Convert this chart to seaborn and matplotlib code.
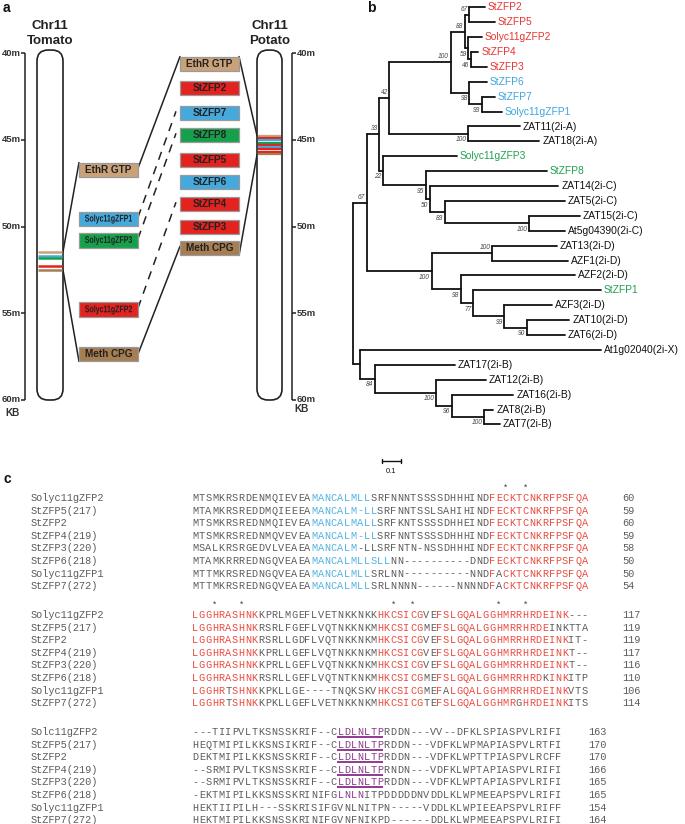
import numpy as np
import pandas as pd
import matplotlib
matplotlib.use("Agg")
import matplotlib.pyplot as plt
import seaborn as sns
from matplotlib.patches import FancyBboxPatch, Rectangle, PathPatch
from matplotlib.textpath import TextPath
from matplotlib.font_manager import FontProperties
import matplotlib.transforms as mtransforms

sns.set_theme(style="white")
plt.rcParams['font.family'] = ['Liberation Sans', 'DejaVu Sans']

# ------------------------------------------------------------------ data
# panel a
mb_ticks = [40, 45, 50, 55, 60]
tomato_genes = ["EthR GTP", "Solyc11gZFP1", "Solyc11gZFP3", "Solyc11gZFP2", "Meth CPG"]
tomato_box_mb = [46.74, 49.57, 50.80, 54.80, 57.35]
tomato_band_mb = [51.45, 51.70, 51.83, 52.26, 52.51]
potato_genes = ["EthR GTP", "StZFP2", "StZFP7", "StZFP8", "StZFP5", "StZFP6",
                "StZFP4", "StZFP3", "Meth CPG"]
potato_box_mb = [40.63, 42.02, 43.46, 44.73, 46.17, 47.44, 48.70, 50.03, 51.24]
potato_band_mb = [44.78, 44.91, 45.04, 45.17, 45.30, 45.43, 45.56, 45.69, 45.82]
homolog_links = [("Solyc11gZFP1", "StZFP7"), ("Solyc11gZFP3", "StZFP8"),
                 ("Solyc11gZFP2", "StZFP4")]

RED, BLUE, GREEN = "#E2231F", "#45A9DD", "#17A04C"
TAN, BROWN = "#C9A27A", "#A77D52"
gene_color = {"EthR GTP": TAN, "Meth CPG": BROWN,
              "StZFP2": RED, "StZFP5": RED, "StZFP4": RED, "StZFP3": RED, "Solyc11gZFP2": RED,
              "StZFP7": BLUE, "StZFP6": BLUE, "Solyc11gZFP1": BLUE,
              "StZFP8": GREEN, "Solyc11gZFP3": GREEN}

# panel b : tree  (node: ("n", depth, bootstrap, label side, children); leaf: (name, depth))
clade_AB = ("n", 0.514, "100", "a", [
    ("n", 0.589, "88", "a", [
        ("n", 0.612, "67", "a", [("StZFP2", 0.695), ("StZFP5", 0.747)]),
        ("n", 0.607, "59", "b", [
            ("Solyc11gZFP2", 0.677),
            ("n", 0.619, "46", "b", [("StZFP4", 0.659), ("StZFP3", 0.704)]),
        ]),
    ]),
    ("n", 0.612, "98", "b", [
        ("StZFP6", 0.704),
        ("n", 0.677, "93", "b", [("StZFP7", 0.747), ("Solyc11gZFP1", 0.783)]),
    ]),
])
clade_2iA = ("n", 0.607, "100", "b", [("ZAT11(2i-A)", 0.879), ("ZAT18(2i-A)", 0.981)])
clade_2iC_tail = ("n", 0.926, "100", "b", [("ZAT15(2i-C)", 1.195), ("At5g04390(2i-C)", 1.116)])
clade_C = ("n", 0.159, "22", "b", [
    ("Solyc11gZFP3", 0.546),
    ("n", 0.384, "95", "b", [
        ("StZFP8", 1.019),
        ("n", 0.405, "50", "b", [
            ("ZAT14(2i-C)", 1.081),
            ("n", 0.484, "83", "b", [("ZAT5(2i-C)", 1.116), clade_2iC_tail]),
        ]),
    ]),
])
clade_D = ("n", 0.414, "100", "b", [
    ("n", 0.733, "100", "a", [("ZAT13(2i-D)", 1.072), ("AZF1(2i-D)", 1.133)]),
    ("n", 0.568, "98", "b", [
        ("AZF2(2i-D)", 1.168),
        ("n", 0.630, "77", "b", [
            ("StZFP1", 1.305),
            ("n", 0.795, "99", "b", [
                ("AZF3(2i-D)", 1.046),
                ("n", 0.914, "90", "b", [("ZAT10(2i-D)", 1.138), ("ZAT6(2i-D)", 1.116)]),
            ]),
        ]),
    ]),
])
clade_B = ("n", 0.116, "84", "b", [
    ("ZAT17(2i-B)", 0.537),
    ("n", 0.437, "100", "b", [
        ("ZAT12(2i-B)", 0.700),
        ("n", 0.519, "96", "b", [
            ("ZAT16(2i-B)", 0.844),
            ("n", 0.689, "100", "b", [("ZAT8(2i-B)", 0.738), ("ZAT7(2i-B)", 0.774)]),
        ]),
    ]),
])
tree = ("n", 0.000, None, None, [
    ("n", 0.072, "67", "a", [
        ("n", 0.138, "33", "a", [
            ("n", 0.191, "42", "a", [clade_AB, clade_2iA]),
            clade_C,
        ]),
        clade_D,
    ]),
    ("n", 0.037, None, None, [("At1g02040(2i-X)", 1.305), clade_B]),
])
TRED, TBLUE, TGREEN = "#E8352F", "#3DA7DE", "#1EA24F"
leaf_color = {"StZFP2": TRED, "StZFP5": TRED, "Solyc11gZFP2": TRED, "StZFP4": TRED,
              "StZFP3": TRED, "StZFP6": TBLUE, "StZFP7": TBLUE, "Solyc11gZFP1": TBLUE,
              "Solyc11gZFP3": TGREEN, "StZFP8": TGREEN, "StZFP1": TGREEN}
scale_len = 0.1

# panel c : alignment
block_names = [
    ["Solyc11gZFP2", "StZFP5(217)", "StZFP2", "StZFP4(219)", "StZFP3(220)", "StZFP6(218)",
     "Solyc11gZFP1", "StZFP7(272)"],
    ["Solyc11gZFP2", "StZFP5(217)", "StZFP2", "StZFP4(219)", "StZFP3(220)", "StZFP6(218)",
     "Solyc11gZFP1", "StZFP7(272)"],
    ["Solc11gZFP2", "StZFP5(217)", "StZFP2", "StZFP4(219)", "StZFP3(220)", "StZFP6(218)",
     "Solyc11gZFP1", "StZFP7(272)"],
]
block1_seqs = [
    "MTSMKRSRDENMQIEVEAMANCALMLLSRFNNNTSSSSDHHHINDFECKTCNKRFPSFQA",
    "MTAMKRSREDDMQIEEEAMANCALM-LLSRFNNTSSLSAHIHINDFECKTCNKRFPSFQA",
    "MTSMKRSREDNMQIEVEAMANCALMALLSRFKNTSSSSDHHEINDFECKTCNKRFPSFQA",
    "MTSMKRSREDNMQVEVEAMANCALM-LLSRFNNTSSSSDHHHINDFECKTCNKRFPSFQA",
    "MSALKRSRGEDVLVEAEAMANCALM-LLSRFNTN-NSSDHHHINDFECKTCNKRFPSFQA",
    "MTAMKRRREDNGQVEAEAMANCALMLLSLLNN----------DNDFECKTCNKRFPSFQA",
    "MTTMKRSREDNGQVEAEAMANCALMLLSRLNN----------NNDFACKTCNKRFPSFQA",
    "MTTMKRSREDNGQVEAEAMANCALMLLSRLNNNN------NNNNDFACKTCNKRFPSFQA",
]
block2_seqs = [
    "LGGHRASHNKKPRLMGEFLVETNKKNKKHKCSICGVEFSLGQALGGHMRRHRDEINK---",
    "LGGHRASHNKRSRLFGEFLVQTNKKNKMHKCSICGMEFSLGQALGGHMRRHRDEINKTTA",
    "LGGHRASHNKRSRLLGDFLVQTNKKNKMHKCSICGVEFSLGQALGGHMRRHRDEINKIT-",
    "LGGHRASHNKKPRLLGEFLVQTNKKNKMHKCSICGVEFSLGQALGGHMRRHRDEINKT--",
    "LGGHRASHNKKPRLLGEFLVQTNKKNKMHKCSICGVEFSLGQALGGHMRRHRDEINKT--",
    "LGGHRASHNKRSRLLGEFLVQTNTKNKMHKCSICGMEFSLGQALGGHMRRHRDKINKITP",
    "LGGHRTSHNKKPKLLGE----TNQKSKVHKCSICGMEFALGQALGGHMRRHRDEINKVTS",
    "LGGHRTSHNKKPKLLGEFLVETNKKNKMHKCSICGTEFSLGQALGGHMRGHRDEINKITS",
]
block3_seqs = [
    "---TIIPVLTKSNSSKRIF--CLDLNLTPRDDN---VV--DFKLSPIASPVLRIFI",
    "HEQTMIPILKKSNSIKRIF--CLDLNLTPRDDN---VDFKLWPMAPIASPVLRTFI",
    "DEKTMIPILKKSNSSKRIF--CLDLNLTPRDDN---VDFKLWPTTPIASPVLRCFF",
    "--SRMIPVLTKSNSSKRIF--CLDLNLTPRNDN---VDFKLWPTAPIASPVLRIFI",
    "--SRMIPVLTKSNSSKRIF--CLDLNLTPRDDN---VDFKLWPTAPIASPVLRIFI",
    "-EKTMIPILKKSNSSKRINIFGLNLNITPDDDDDNVDDLKLWPMEEAPSPVLRIFI",
    "HEKTIIPILH---SSKRISIFGVNLNITPN-----VDDLKLWPIEEAPSPVLRIFF",
    "HEKTMIPILKKSNSSKRINIFGVNFNIKPD------DDLKLWPMEEAPSPVLRIFI",
]
block1_ends = [60, 59, 60, 59, 58, 50, 50, 54]
block2_ends = [117, 119, 119, 117, 116, 110, 106, 114]
block3_ends = [163, 170, 170, 166, 165, 165, 154, 164]
block1_stars = [47, 50]
block2_stars = [3, 7, 30, 33, 46, 50]


def runs(spec):
    return "".join(code * n for n, code in spec)


block1_marks = [
    runs([(18, "g"), (9, "b"), (18, "g"), (15, "r")]),
    runs([(18, "g"), (10, "b"), (17, "g"), (15, "r")]),
    runs([(18, "g"), (10, "b"), (17, "g"), (15, "r")]),
    runs([(18, "g"), (10, "b"), (17, "g"), (15, "r")]),
    runs([(18, "g"), (7, "b"), (20, "g"), (15, "r")]),
    runs([(18, "g"), (12, "b"), (15, "g"), (15, "r")]),
    runs([(18, "g"), (9, "b"), (18, "g"), (1, "r"), (1, "g"), (13, "r")]),
    runs([(18, "g"), (9, "b"), (18, "g"), (1, "r"), (1, "g"), (13, "r")]),
]
block2_marks = [
    runs([(10, "r"), (18, "g"), (7, "r"), (2, "g"), (20, "r"), (3, "g")]),
    runs([(10, "r"), (18, "g"), (7, "r"), (2, "g"), (17, "r"), (6, "g")]),
    runs([(10, "r"), (18, "g"), (7, "r"), (2, "g"), (20, "r"), (3, "g")]),
    runs([(10, "r"), (18, "g"), (7, "r"), (2, "g"), (20, "r"), (3, "g")]),
    runs([(10, "r"), (18, "g"), (7, "r"), (2, "g"), (20, "r"), (3, "g")]),
    runs([(10, "r"), (18, "g"), (7, "r"), (2, "g"), (16, "r"), (1, "g"), (3, "r"), (3, "g")]),
    runs([(5, "r"), (1, "g"), (4, "r"), (18, "g"), (7, "r"), (2, "g"), (1, "r"), (1, "g"),
          (18, "r"), (3, "g")]),
    runs([(5, "r"), (1, "g"), (4, "r"), (18, "g"), (7, "r"), (2, "g"), (12, "r"), (1, "g"),
          (7, "r"), (3, "g")]),
]
block3_marks = [runs([(22, "g"), (7, "u"), (27, "g")])] * 5 + [
    runs([(22, "g"), (4, "p"), (30, "g")]), runs([(56, "g")]), runs([(56, "g")])]

# ------------------------------------------------------------------ figure
W, H = 685, 824
fig = plt.figure(figsize=(W / 100, H / 100), dpi=100)


def add_px_axes(x0, y0, x1, y1):
    ax = fig.add_axes([x0 / W, 1 - y1 / H, (x1 - x0) / W, (y1 - y0) / H])
    ax.set_axis_off()
    return ax


# ---------------- panel a
PXMB = 17.35
axa = add_px_axes(0, 53, 330, 400)
axa.set_xlim(0, 330)
axa.set_ylim(60, 40)
DARK = "#222222"
bh = 0.85


def chrom(x0, w):
    p = FancyBboxPatch((x0, 39.83), w, 60.0 - 39.83,
                       boxstyle="round,pad=0,rounding_size=11",
                       mutation_aspect=1 / PXMB, fc="white", ec=DARK, lw=1.2,
                       clip_on=False, zorder=2)
    axa.add_patch(p)


chrom(37, 26)
chrom(257, 25)
axa.hlines(tomato_band_mb, 37.6, 62.4,
           colors=[gene_color[g] for g in tomato_genes], lw=1.8, zorder=3)
axa.hlines(potato_band_mb, 257.6, 281.4,
           colors=[gene_color[g] for g in potato_genes], lw=1.6, zorder=3)

for xa, side in [(25, -1), (292, 1)]:
    axa.vlines(xa, 40, 60, color=DARK, lw=1.1, clip_on=False)
    axa.hlines(mb_ticks, xa, xa + side * 4, color=DARK, lw=1.1, clip_on=False)
    for m in mb_ticks:
        axa.text(xa + side * 4.5, m, f"{m}m", ha="right" if side < 0 else "left",
                 va="center", fontsize=6.8, weight="bold", color="#333333")
axa.text(13, 60.75, "KB", ha="center", va="center", fontsize=7.2, weight="bold", color="#333333")
axa.text(302, 60.5, "KB", ha="center", va="center", fontsize=7.2, weight="bold", color="#333333")
axa.text(50, 38.45, "Chr11", ha="center", va="center", fontsize=9.5, weight="bold", color=DARK)
axa.text(50, 39.32, "Tomato", ha="center", va="center", fontsize=9.5, weight="bold", color=DARK)
axa.text(270, 38.45, "Chr11", ha="center", va="center", fontsize=9.5, weight="bold", color=DARK)
axa.text(270, 39.32, "Potato", ha="center", va="center", fontsize=9.5, weight="bold", color=DARK)

tb_x0, tb_w = 79, 59
pb_x0, pb_w = 180, 59
tpos = dict(zip(tomato_genes, tomato_box_mb))
ppos = dict(zip(potato_genes, potato_box_mb))
PT = 100 / 72.0
bold_fp = FontProperties(family="Liberation Sans", weight="bold")


def condensed_text(xc, mb, s, size, squeeze):
    tp = TextPath((0, 0), s, size=size, prop=bold_fp)
    ext = tp.get_extents()
    cx = (ext.x0 + ext.x1) / 2
    cy = (ext.y0 + ext.y1) / 2
    tr = (mtransforms.Affine2D().translate(-cx, -cy)
          .scale(PT * squeeze, -PT / PXMB).translate(xc, mb))
    axa.add_patch(PathPatch(tr.transform_path(tp), fc=DARK, ec="none", lw=0,
                            zorder=5, clip_on=False))


def gene_box(x0, w, mb, name):
    axa.add_patch(Rectangle((x0, mb - bh / 2), w, bh, fc=gene_color[name], ec="#9a9a9a",
                            lw=0.9, zorder=4, clip_on=False))
    if name.startswith("Solyc"):
        condensed_text(x0 + w / 2, mb, name, 7.0, 0.72)
    else:
        axa.text(x0 + w / 2, mb, name, ha="center", va="center", color=DARK, zorder=5,
                 fontsize=7.2, weight="bold")


for g, m in zip(tomato_genes, tomato_box_mb):
    gene_box(tb_x0, tb_w, m, g)
for g, m in zip(potato_genes, potato_box_mb):
    gene_box(pb_x0, pb_w, m, g)

lk = dict(color=DARK, lw=1.1, zorder=1, clip_on=False)
axa.plot([63, tb_x0], [tomato_band_mb[0], tpos["EthR GTP"] - bh / 2], **lk)
axa.plot([63, tb_x0], [tomato_band_mb[-1], tpos["Meth CPG"] + bh / 2], **lk)
axa.plot([tb_x0 + tb_w, pb_x0], [tpos["EthR GTP"] - 0.1, ppos["EthR GTP"] - bh / 2], **lk)
axa.plot([tb_x0 + tb_w, pb_x0], [tpos["Meth CPG"], ppos["Meth CPG"] - 0.1], **lk)
axa.plot([pb_x0 + pb_w, 257], [ppos["EthR GTP"] - bh / 2, potato_band_mb[0] - 0.02], **lk)
axa.plot([pb_x0 + pb_w, 257], [ppos["Meth CPG"] + bh / 2, potato_band_mb[-1] + 0.05], **lk)
for t, p in homolog_links:
    axa.plot([tb_x0 + tb_w, pb_x0 - 4], [tpos[t] - 0.1, ppos[p] - 0.1], ls=(0, (5.5, 4.5)),
             color=DARK, lw=1.1, zorder=1, clip_on=False)

# ---------------- panel b (tree)
PX_D = 190.0
axb = add_px_axes(330, 0, 685, 480)
LEAF0, LEAFH = 7.3, 14.9

segs = []
leaves = []
boots = []
counter = [0]


def walk(node):
    if node[0] != "n":
        name, d = node
        y = counter[0]
        counter[0] += 1
        leaves.append((name, d, y))
        return y
    _, d, bs, side, kids = node
    ys = []
    for k in kids:
        yk = walk(k)
        kd = k[1]
        segs.append(((d, yk), (kd, yk)))
        ys.append(yk)
    segs.append(((d, min(ys)), (d, max(ys))))
    y = (min(ys) + max(ys)) / 2
    if bs is not None:
        boots.append((bs, d, y, side))
    return y


walk(tree)
rows = []
for i, ((x0, y0), (x1, y1)) in enumerate(segs):
    rows.append(dict(x=x0, y=y0, seg=i))
    rows.append(dict(x=x1, y=y1, seg=i))
seg_df = pd.DataFrame(rows)
sns.lineplot(data=seg_df, x="x", y="y", units="seg", estimator=None, sort=False,
             color="#111111", lw=1.3, ax=axb, legend=False)
axb.set_axis_off()
axb.set_xlim((330 - 353) / PX_D, (685 - 353) / PX_D)
axb.set_ylim((480 - LEAF0) / LEAFH, (0 - LEAF0) / LEAFH)

for name, d, y in leaves:
    axb.text(d + 3.0 / PX_D, y, name, ha="left", va="center", fontsize=7.4,
             color=leaf_color.get(name, "#111111"))
for bs, d, y, side in boots:
    if side == "a":
        axb.text(d - 1.5 / PX_D, y - 0.13, bs, ha="right", va="bottom", fontsize=4.8,
                 style="italic", color="#444444")
    else:
        axb.text(d - 1.5 / PX_D, y + 0.16, bs, ha="right", va="top", fontsize=4.8,
                 style="italic", color="#444444")

sb_x0 = (382 - 353) / PX_D
sb_y = (461 - LEAF0) / LEAFH
axb.plot([sb_x0, sb_x0 + scale_len], [sb_y, sb_y], color="#111111", lw=1.0)
axb.plot([sb_x0, sb_x0], [sb_y - 0.15, sb_y + 0.15], color="#111111", lw=1.0)
axb.plot([sb_x0 + scale_len, sb_x0 + scale_len], [sb_y - 0.15, sb_y + 0.15], color="#111111", lw=1.0)
axb.text(sb_x0 + scale_len / 2, sb_y + 0.45, "0.1", ha="center", va="top", fontsize=5.5,
         color="#111111")

# ---------------- panel c (alignment)
axc = add_px_axes(0, 470, 685, 824)
axc.set_xlim(0, 685)
axc.set_ylim(824, 470)
CW = 6.6
SEQ_X0 = 192
ROW_H = 12.6
block_y0 = [498, 615, 732]
num_x = [622, 622, 588]
MONO = ["Liberation Mono", "DejaVu Sans Mono"]
GRAY = "#5c5c5c"
cmap = {"g": GRAY, "b": "#52B2E0", "r": "#EA4B40", "p": "#8C3B8E", "u": "#8C3B8E"}
FS = 7.4

blocks = [(block1_seqs, block1_marks, block1_ends, block1_stars),
          (block2_seqs, block2_marks, block2_ends, block2_stars),
          (block3_seqs, block3_marks, block3_ends, [])]
for b, (seqs, marks, ends, stars) in enumerate(blocks):
    y0 = block_y0[b]
    for s in stars:
        axc.text(SEQ_X0 + (s + 0.5) * CW, y0 - 10, "*", ha="center", va="center",
                 fontsize=6.5, family=MONO, color="#444444")
    for r, (seq, mk) in enumerate(zip(seqs, marks)):
        y = y0 + r * ROW_H
        axc.text(31, y, block_names[b][r], ha="left", va="center", fontsize=FS,
                 family=MONO, color=GRAY)
        for c, (ch, m) in enumerate(zip(seq, mk)):
            axc.text(SEQ_X0 + (c + 0.5) * CW, y, ch, ha="center", va="center",
                     fontsize=FS, family=MONO, color=cmap[m])
        ucols = [c for c, m in enumerate(mk) if m == "u"]
        if ucols:
            axc.plot([SEQ_X0 + ucols[0] * CW, SEQ_X0 + (ucols[-1] + 1) * CW],
                     [y + 5, y + 5], color="#8C3B8E", lw=1.4, solid_capstyle="butt")
        axc.text(num_x[b], y, str(ends[r]), ha="left", va="center", fontsize=FS,
                 family=MONO, color=GRAY)

# panel letters
fig.text(3 / W, 1 - 8 / H, "a", ha="left", va="center", fontsize=10, weight="bold", color="#111")
fig.text(367 / W, 1 - 8 / H, "b", ha="left", va="center", fontsize=10, weight="bold", color="#111")
fig.text(4 / W, 1 - 479 / H, "c", ha="left", va="center", fontsize=10, weight="bold", color="#111")

fig.savefig("out.png", dpi=100)
